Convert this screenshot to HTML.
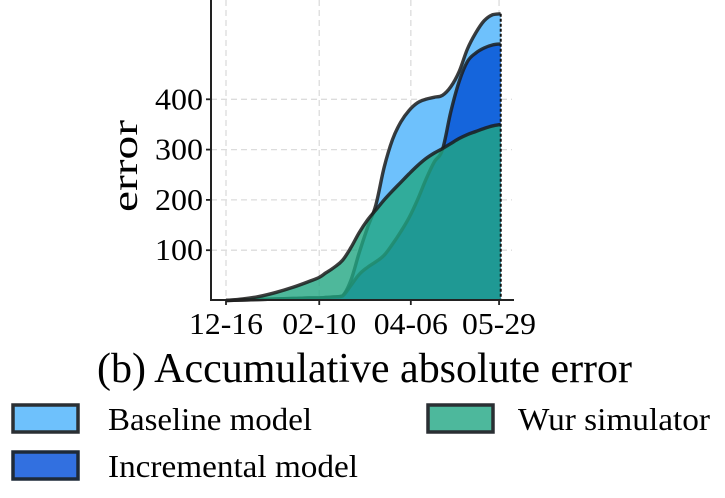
<!DOCTYPE html>
<html><head><meta charset="utf-8"><style>
body{margin:0;background:#fff;}
svg{display:block;font-family:"Liberation Serif","DejaVu Serif",serif;}
</style></head><body>
<svg id="chart" width="725" height="498" viewBox="0 0 725 498" xmlns="http://www.w3.org/2000/svg">
<g id="grid"></g>
<g id="areas"></g>
<g id="axes"></g>
<text transform="translate(137,166) rotate(-90)" text-anchor="middle" font-size="36" textLength="92" lengthAdjust="spacingAndGlyphs">error</text>
<text x="97" y="382" font-size="42" textLength="535" lengthAdjust="spacingAndGlyphs">(b) Accumulative absolute error</text>
<g>
 <g>
  <rect x="13" y="405" width="65" height="27" fill="#6ec1fc" stroke="#2a2f33" stroke-width="3.5"/>
  <text x="108" y="430" font-size="32" textLength="204" lengthAdjust="spacingAndGlyphs">Baseline model</text>
 </g>
 <g>
  <rect x="13" y="452" width="65" height="27" fill="#3270e0" stroke="#1e2a38" stroke-width="3.5"/>
  <text x="108" y="477" font-size="32" textLength="250" lengthAdjust="spacingAndGlyphs">Incremental model</text>
 </g>
 <g>
  <rect x="428" y="405" width="65" height="27" fill="#4db89c" stroke="#2a2f33" stroke-width="3.5"/>
  <text x="518" y="430" font-size="32" textLength="192" lengthAdjust="spacingAndGlyphs">Wur simulator</text>
 </g>
</g>
</svg>
<script>
const days=[0,10,20,30,40,50,56,60,65,70,75,80,85,90,95,100,105,110,115,120,125,130,135,140,145,150,155,160,165];
const wur=[0,3,8,16,26,38,46,55,66,80,105,135,160,180,200,218,235,252,268,282,293,302,312,322,330,336,342,347,350];
const baseline=[0,1,2,3,4,5,5,6,7,9,40,95,145,190,265,320,355,378,393,400,404,408,425,455,500,532,556,568,570];
const incremental=[0,1,2,3,4,5,5,6,7,9,30,52,66,77,90,112,137,165,200,240,275,300,375,435,475,492,502,508,510];
const xTickDays=[0,56,111,164];
const xTickLabels=["12-16","02-10","04-06","05-29"];
const yTicks=[100,200,300,400];
const NS="http://www.w3.org/2000/svg";
const X0=211,X1=512,Y0=300;
const xs=d=>226+d*1.665;
const ys=v=>300.5-0.503*v;
function mk(tag,attrs,parent){const e=document.createElementNS(NS,tag);for(const k in attrs)e.setAttribute(k,attrs[k]);parent.appendChild(e);return e;}
const grid=document.getElementById('grid'),areas=document.getElementById('areas'),axes=document.getElementById('axes');
xTickDays.forEach((d,i)=>{
 const l=mk('line',{x1:xs(d),x2:xs(d),y1:0,y2:Y0,stroke:'#dcdcdc','stroke-width':1.3,'stroke-dasharray':'6,4'},grid);
 
 
});
yTicks.forEach(v=>{
 const l=mk('line',{x1:X0,x2:X1,y1:ys(v),y2:ys(v),stroke:'#dcdcdc','stroke-width':1.3,'stroke-dasharray':'6,4'},grid);
 
 
});
function smooth(vals){
 const P=days.map((d,i)=>[xs(d),ys(vals[i])]);
 let p='M'+P[0][0]+','+P[0][1];
 for(let i=0;i<P.length-1;i++){
  const p0=P[Math.max(0,i-1)],p1=P[i],p2=P[i+1],p3=P[Math.min(P.length-1,i+2)];
  const t=0.18;
  let c1y=p1[1]+(p2[1]-p0[1])*t,c2y=p2[1]-(p3[1]-p1[1])*t;
  const lo=Math.min(p1[1],p2[1]),hi=Math.max(p1[1],p2[1]);
  c1y=Math.min(hi,Math.max(lo,c1y));c2y=Math.min(hi,Math.max(lo,c2y));
  p+=' C'+(p1[0]+(p2[0]-p0[0])*t)+','+c1y+' '+(p2[0]-(p3[0]-p1[0])*t)+','+c2y+' '+p2[0]+','+p2[1];
 }
 return p;
}
function areaPath(vals){return smooth(vals)+' L'+xs(days[days.length-1])+','+ys(0)+' L'+xs(days[0])+','+ys(0)+' Z';}
const series=[['baseline',baseline,'#6ec1fc',1],['incremental',incremental,'#1565dc',1],['wur',wur,'rgb(34,166,130)',0.8]];
series.forEach(([n,vals,c,a])=>{
 const ar=mk('path',{d:areaPath(vals),fill:c,'fill-opacity':a,stroke:'none'},areas);
 
 
 const ln=mk('path',{d:smooth(vals),fill:'none',stroke:'#1c1c1c','stroke-opacity':0.85,'stroke-width':3.4,'stroke-linejoin':'round'},areas);
 
 
});
const endX=xs(days[days.length-1]);
const el=mk('line',{x1:endX,x2:endX,y1:ys(baseline[baseline.length-1]),y2:Y0,stroke:'#111','stroke-width':2,'stroke-dasharray':'3,2'},areas);


const sl=mk('line',{x1:X0,x2:X0,y1:0,y2:Y0+1,stroke:'#222','stroke-width':2},axes);


const sb=mk('line',{x1:X0-1,x2:X1+2,y1:Y0,y2:Y0,stroke:'#222','stroke-width':2},axes);


yTicks.forEach(v=>{
 const t=mk('line',{x1:X0-5,x2:X0,y1:ys(v),y2:ys(v),stroke:'#222','stroke-width':1.8},axes);
 
 
 const tx=mk('text',{x:203,y:ys(v)+10,'text-anchor':'end','font-size':31,textLength:48,lengthAdjust:'spacingAndGlyphs'},axes);
 
 
 tx.textContent=v;
});
xTickDays.forEach((d,i)=>{
 const t=mk('line',{x1:xs(d),x2:xs(d),y1:Y0,y2:Y0+5,stroke:'#222','stroke-width':1.8},axes);
 
 
 const tx=mk('text',{x:xs(d),y:334,'text-anchor':'middle','font-size':31,textLength:74,lengthAdjust:'spacingAndGlyphs'},axes);
 
 
 tx.textContent=xTickLabels[i];
});
</script>
</body></html>
